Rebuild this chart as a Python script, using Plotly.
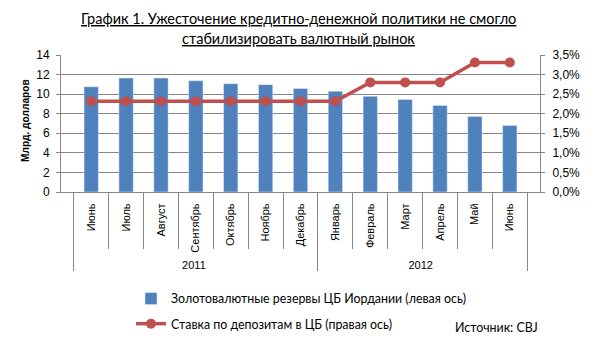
import plotly.graph_objects as go

months = ["Июнь", "Июль", "Август", "Сентябрь", "Октябрь", "Ноябрь", "Декабрь",
          "Январь", "Февраль", "Март", "Апрель", "Май", "Июнь\u200b"]
years = ["2011"] * 7 + ["2012"] * 6
reserves = [10.75, 11.65, 11.65, 11.37, 11.07, 10.97, 10.57, 10.3, 9.78, 9.45, 8.85, 7.72, 6.8]
rate = [2.32, 2.32, 2.32, 2.32, 2.32, 2.32, 2.32, 2.32, 2.8, 2.8, 2.8, 3.31, 3.31]

title_line1 = "График 1. Ужесточение кредитно-денежной политики не смогло"
title_line2 = "стабилизировать валютный рынок"
bar_name = "Золотовалютные резервы ЦБ Иордании (левая ось)"
line_name = "Ставка по депозитам в ЦБ (правая ось)"
source_text = "Источник: CBJ"
y_title = "Млрд. долларов"

x = [years, months]

fig = go.Figure()
fig.add_trace(go.Bar(x=x, y=reserves, name=bar_name, marker_color="#4F81BD",
                     legendgroup="a", yaxis="y"))
fig.add_trace(go.Scatter(x=x, y=rate, name=line_name, mode="lines+markers",
                         line=dict(color="#C0504D", width=3.5),
                         marker=dict(size=10, color="#C0504D"),
                         legendgroup="b", yaxis="y2"))

L, R, T, B = 61, 65, 55, 148
W, H = 605, 340
PH = H - T - B
PW = W - L - R


def py(pix):
    return (H - B - pix) / PH


def px(pix):
    return (pix - L) / PW


grid = "#868686"
tickfont = dict(family="Liberation Sans, Arial", size=12, color="black")
fig.update_layout(
    width=W, height=H,
    margin=dict(l=L, r=R, t=T, b=B, autoexpand=False),
    paper_bgcolor="white", plot_bgcolor="white",
    separators=", ",
    bargap=0.59,
    font=dict(family="Liberation Sans, Arial", size=11, color="black"),
    showlegend=True,
    legend=dict(x=131 / W, xref="container", xanchor="left",
                y=1 - 284 / H, yref="container", yanchor="top",
                font=dict(family="Lato", size=12.4), tracegroupgap=6,
                bgcolor="rgba(0,0,0,0)", itemwidth=30),
    xaxis=dict(type="multicategory", showline=True, linecolor=grid, linewidth=1,
               ticks="outside", ticklen=56, tickcolor=grid, tickangle=-90,
               ticklabelstandoff=6, automargin=False,
               showdividers=True, dividercolor=grid, dividerwidth=1,
               tickfont=dict(family="Liberation Sans, Arial", size=11)),
    yaxis=dict(range=[0, 14], dtick=2, showgrid=True, gridcolor=grid, gridwidth=1,
               showline=True, linecolor=grid, ticks="outside", ticklen=4, tickcolor=grid,
               ticklabelstandoff=4, tickfont=tickfont, automargin=False,
               zeroline=False),
    yaxis2=dict(range=[0, 3.5], dtick=0.5, overlaying="y", side="right",
                tickformat=".1f", ticksuffix="%", showgrid=False, automargin=False,
                showline=True, linecolor=grid, ticks="outside", ticklen=4, tickcolor=grid,
                ticklabelstandoff=5, tickfont=tickfont,
                zeroline=False),
)

fig.add_annotation(text="<b>" + y_title + "</b>", xref="paper", yref="paper",
                   x=px(25), y=py(121), xanchor="center", yanchor="middle",
                   textangle=-90, showarrow=False,
                   font=dict(family="Liberation Sans, Arial", size=10.2, color="black"))
fig.add_annotation(text="<u>" + title_line1 + "</u>", xref="paper", yref="paper",
                   x=px(298.5), y=py(18), xanchor="center", yanchor="middle",
                   showarrow=False,
                   font=dict(family="Lato", size=14.5, color="black"))
fig.add_annotation(text="<u>" + title_line2 + "</u>", xref="paper", yref="paper",
                   x=px(298.5), y=py(38), xanchor="center", yanchor="middle",
                   showarrow=False,
                   font=dict(family="Lato", size=14.5, color="black"))
fig.add_annotation(text=source_text, xref="paper", yref="paper", x=px(540),
                   y=py(327), xanchor="right", yanchor="middle", showarrow=False,
                   font=dict(family="Lato", size=12.4))

fig.write_html("out.html")
